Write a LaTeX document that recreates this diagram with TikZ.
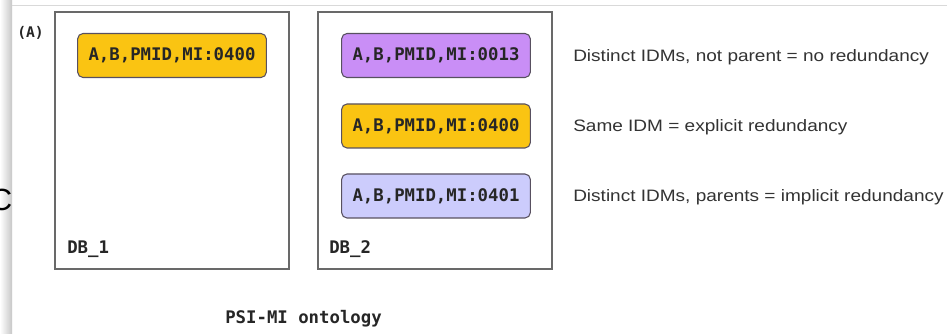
\documentclass[tikz,border=0pt]{standalone}
\usepackage{fontspec}
\setsansfont{Liberation Sans}
\setmonofont{DejaVu Sans Mono}
\newfontfamily\capfont[FakeStretch=1.15]{Liberation Sans}
\definecolor{gold}{RGB}{250,196,18}
\definecolor{violet}{RGB}{201,142,246}
\definecolor{lavender}{RGB}{204,204,252}
\definecolor{edgegray}{RGB}{88,80,96}
\definecolor{framegray}{RGB}{105,105,105}

\begin{document}
\begin{tikzpicture}[x=0.75pt,y=0.75pt,yscale=-1,xscale=1,
  entry/.style={draw=edgegray, line width=0.8pt, rounded corners=4pt, minimum width=141.5pt, minimum height=33pt, inner sep=0pt, font=\fontsize{13}{15}\selectfont\ttfamily\bfseries, text=black!85},
  dbframe/.style={draw=framegray, line width=1pt, minimum width=175.5pt, minimum height=192.75pt, inner sep=0pt},
  monolabel/.style={anchor=west, inner sep=0pt, font=\fontsize{13}{15}\selectfont\ttfamily\bfseries, text=black!85},
  caption/.style={anchor=west, inner sep=0pt, font=\fontsize{12.4}{14}\selectfont\capfont, text=black!80}]
\useasboundingbox (0,0) rectangle (947,334);

%Shape: page edge and shadow
\fill [white] (0,0) rectangle (947,334);
\shade [left color=white, right color=black!22] (0,0) rectangle (12,334);
\draw [black!15, line width=0.8pt] (12,5.5) -- (947,5.5);
\node (cut) [anchor=east, inner sep=0pt, font=\fontsize{23}{25}\selectfont\sffamily] at (12.5,200) {C};

%Shape: Rectangle, first database
\node (db1) [dbframe] at (172,140.5) {};
%Shape: Rectangle, second database
\node (db2) [dbframe] at (435,140.5) {};

% Text Node
\node (tag) [monolabel, font=\fontsize{11}{12}\selectfont\ttfamily\bfseries] at (17,33) {(A)};

% Interaction entries
\node (a0400) [entry, fill=gold] at (172,55.5) {A,B,PMID,MI:0400};
\node (b0013) [entry, fill=violet] at (436,55.5) {A,B,PMID,MI:0013};
\node (b0400) [entry, fill=gold] at (436,126) {A,B,PMID,MI:0400};
\node (b0401) [entry, fill=lavender] at (436,196) {A,B,PMID,MI:0401};

% Text Node
\node (lbl1) [monolabel] at (67,249) {DB\_1};
% Text Node
\node (lbl2) [monolabel] at (329,249) {DB\_2};
% Text Node
\node (onto) [monolabel] at (225,319) {PSI-MI ontology};

% Text Node
\node (none) [caption] at (573,57) {Distinct IDMs, not parent = no redundancy};
% Text Node
\node (expl) [caption] at (573,127) {Same IDM = explicit redundancy};
% Text Node
\node (impl) [caption] at (573,197) {Distinct IDMs, parents = implicit redundancy};

\end{tikzpicture}
\end{document}
